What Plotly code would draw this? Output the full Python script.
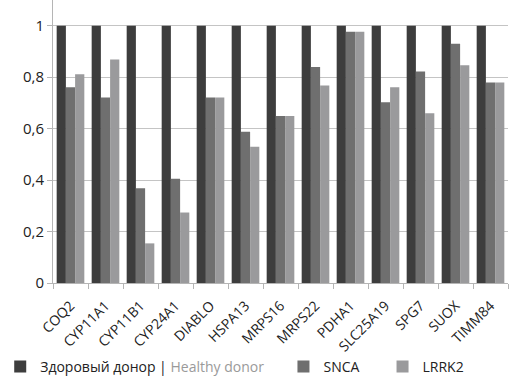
import plotly.graph_objects as go

genes = ["COQ2", "CYP11A1", "CYP11B1", "CYP24A1", "DIABLO", "HSPA13", "MRPS16",
         "MRPS22", "PDHA1", "SLC25A19", "SPG7", "SUOX", "TIMM84"]
healthy = [1, 1, 1, 1, 1, 1, 1, 1, 1, 1, 1, 1, 1]
snca = [0.761, 0.721, 0.368, 0.405, 0.721, 0.588, 0.649, 0.840, 0.977, 0.703, 0.822, 0.930, 0.779]
lrrk2 = [0.811, 0.869, 0.154, 0.274, 0.721, 0.530, 0.649, 0.768, 0.977, 0.761, 0.660, 0.846, 0.779]

nb = "\u00a0"
names = ["Здоровый донор | <span style='color:#9a9a9a'>Healthy donor</span>" + nb * 4,
         "SNCA" + nb * 5, "LRRK2"]
colors = ["#3d3d3d", "#6f6f6f", "#9a9a9c"]

fig = go.Figure()
for name, vals, col in zip(names, [healthy, snca, lrrk2], colors):
    fig.add_trace(go.Bar(x=genes, y=vals, name=name, marker=dict(color=col, line=dict(width=0))))

fig.update_layout(
    width=513, height=389,
    margin=dict(l=46, r=5, t=0, b=106),
    barmode="group", bargap=0.21, bargroupgap=0,
    plot_bgcolor="white", paper_bgcolor="white",
    font=dict(family="Open Sans, Noto Sans, sans-serif", size=13, color="#222"),
    separators=", ",
    showlegend=True,
    legend=dict(orientation="h", x=-0.116, xanchor="left", xref="paper",
                y=-0.24, yanchor="top", font=dict(size=14, color="#222"),
                itemwidth=30, traceorder="normal", bgcolor="rgba(0,0,0,0)"),
)
fig.update_xaxes(type="category", tickangle=-45, showline=True, linecolor="#b5b5b5",
                 ticks="outside", tickson="boundaries", ticklen=5, tickcolor="#b5b5b5",
                 tickfont=dict(size=14, color="#222"), showgrid=False, automargin=False,
                 ticklabelstandoff=8)
fig.update_yaxes(range=[0, 1.1], tickvals=[0, 0.2, 0.4, 0.6, 0.8, 1],
                 ticktext=["0", "0,2", "0,4", "0,6", "0,8", "1"],
                 showgrid=True, gridcolor="#c4c4c4", gridwidth=1,
                 showline=True, linecolor="#b5b5b5", ticks="outside", ticklen=5,
                 tickcolor="#b5b5b5", tickfont=dict(size=15, color="#222"), zeroline=False,
                 automargin=False)

fig.write_html("out.html", config={"displayModeBar": False},
               post_script="document.body.style.margin='0';")
